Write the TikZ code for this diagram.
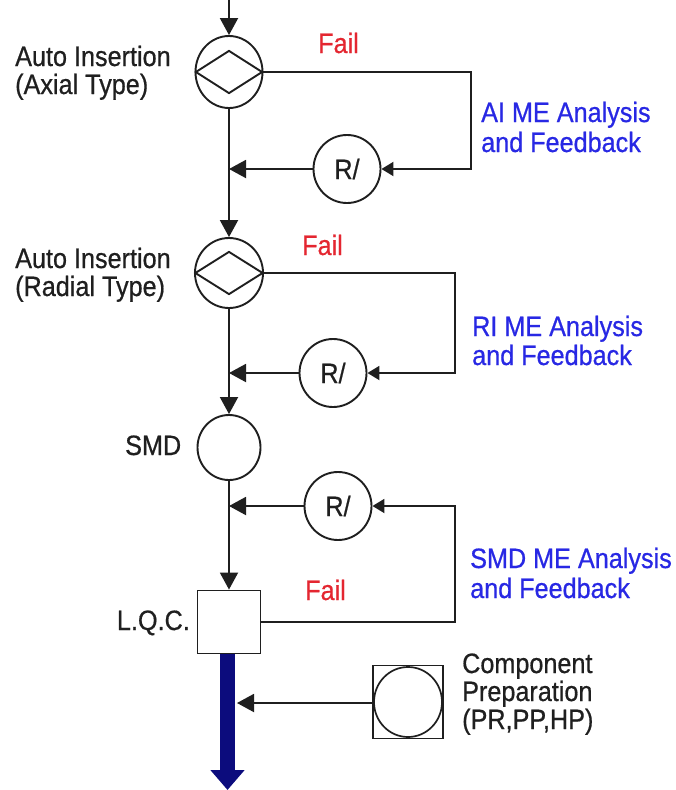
\documentclass[tikz,border=0pt]{standalone}
\usepackage{fontspec}
\setmainfont{Liberation Sans}[FakeStretch=0.9,FakeBold=0.6]
\usetikzlibrary{arrows.meta,shapes.geometric}
\definecolor{failred}{RGB}{228,38,48}
\definecolor{mblue}{RGB}{40,40,228}
\definecolor{navyb}{RGB}{12,12,125}
\tikzset{
  lbl/.style={font=\fontsize{28}{28}\selectfont, inner sep=0pt, text=black!88},
  fail/.style={lbl, text=failred},
  fb/.style={lbl, text=mblue},
  ln/.style={line width=1.9pt, draw=black!88},
  arr/.style={ln, -{Triangle[width=18pt,length=17pt]}},
  sarr/.style={ln, -{Triangle[width=14pt,length=12pt]}},
  proc/.style={ellipse, draw=black!88, line width=1.9pt, inner sep=0pt, fill=white},
  dia/.style={diamond, draw=black!88, line width=1.9pt, inner sep=0pt},
  rnode/.style={proc, minimum width=67pt, minimum height=68pt, font=\fontsize{28}{28}\selectfont, text=black!88},
}
\begin{document}
\begin{tikzpicture}[x=1pt,y=-1pt]
\fill[white] (0,0) rectangle (675,790);
\useasboundingbox (0,0) rectangle (675,790);

% main stations
\coordinate (top) at (229,0);
\node[proc, minimum width=67pt, minimum height=72pt] (c1) at (229,72) {};
\node[dia, minimum width=67pt, minimum height=43pt] (d1) at (c1.center) {};
\node[proc, minimum width=68pt, minimum height=70pt] (c2) at (229,273) {};
\node[dia, minimum width=68pt, minimum height=43pt] (d2) at (c2.center) {};
\node[proc, minimum width=63pt, minimum height=65pt] (smd) at (229,447.5) {};
\node[draw=black!88, line width=1.9pt, minimum width=63pt, minimum height=63pt, inner sep=0pt] (lqc) at (229,622) {};

% rework nodes
\node[rnode] (r1) at (347,169) {R/};
\node[rnode] (r2) at (333,373) {R/};
\node[rnode] (r3) at (338,506) {R/};

% component preparation
\node[draw=black!88, line width=1.7pt, minimum width=70pt, minimum height=73pt, inner sep=0pt] (comp) at (408,702) {};
\node[proc, line width=1.7pt, minimum width=68pt, minimum height=70pt, fill=none] (compc) at (comp.center) {};

% labels
\node[lbl, anchor=base west] (t1a) at (15,66) {Auto Insertion};
\node[lbl, anchor=base west] (t1b) at (15,94) {(Axial Type)};
\node[lbl, anchor=base west] (t2a) at (15,268) {Auto Insertion};
\node[lbl, anchor=base west] (t2b) at (15,296) {(Radial Type)};
\node[lbl, anchor=base west] (t3) at (125,455) {SMD};
\node[lbl, anchor=base east] (t4) at (190,630) {L.Q.C.};
\node[lbl, anchor=base west] (t5a) at (462,673) {Component};
\node[lbl, anchor=base west] (t5b) at (462,701) {Preparation};
\node[lbl, anchor=base west] (t5c) at (462,729) {(PR,PP,HP)};

\node[fail, anchor=base west] (f1) at (318,53) {Fail};
\node[fail, anchor=base west] (f2) at (302,255) {Fail};
\node[fail, anchor=base west] (f3) at (305,600) {Fail};

\node[fb, anchor=base west] (b1a) at (481,122) {AI ME Analysis};
\node[fb, anchor=base west] (b1b) at (481,152) {and Feedback};
\node[fb, anchor=base west] (b2a) at (472,336) {RI ME Analysis};
\node[fb, anchor=base west] (b2b) at (472,365) {and Feedback};
\node[fb, anchor=base west] (b3a) at (470,568) {SMD ME Analysis};
\node[fb, anchor=base west] (b3b) at (470,598) {and Feedback};

% main flow
\draw[arr] (top) -- (c1.north);
\draw[arr] (c1.south) -- (c2.north);
\draw[arr] (c2.south) -- (smd.north);
\draw[arr] (smd.south) -- (lqc.north);

% feedback loop 1
\coordinate (k1) at (471,169);
\draw[sarr] (c1.east) -| (k1) -- (r1.east);
\draw[arr] (r1.west) -- (r1.west -| c1.center);

% feedback loop 2
\coordinate (k2) at (455,373);
\draw[sarr] (c2.east) -| (k2) -- (r2.east);
\draw[arr] (r2.west) -- (r2.west -| c2.center);

% feedback loop 3
\coordinate (k3) at (455,506);
\draw[sarr] (lqc.east) -| (k3) -- (r3.east);
\draw[arr] (r3.west) -- (r3.west -| smd.center);

% output arrow
\coordinate (outend) at (227.5,790);
\draw[navyb, line width=15pt, -{Triangle[width=33pt,length=20pt]}] (lqc.south -| outend) -- (outend);
\coordinate (bj) at (237,703);
\draw[arr] (comp.west |- bj) -- (bj);
\end{tikzpicture}
\end{document}
